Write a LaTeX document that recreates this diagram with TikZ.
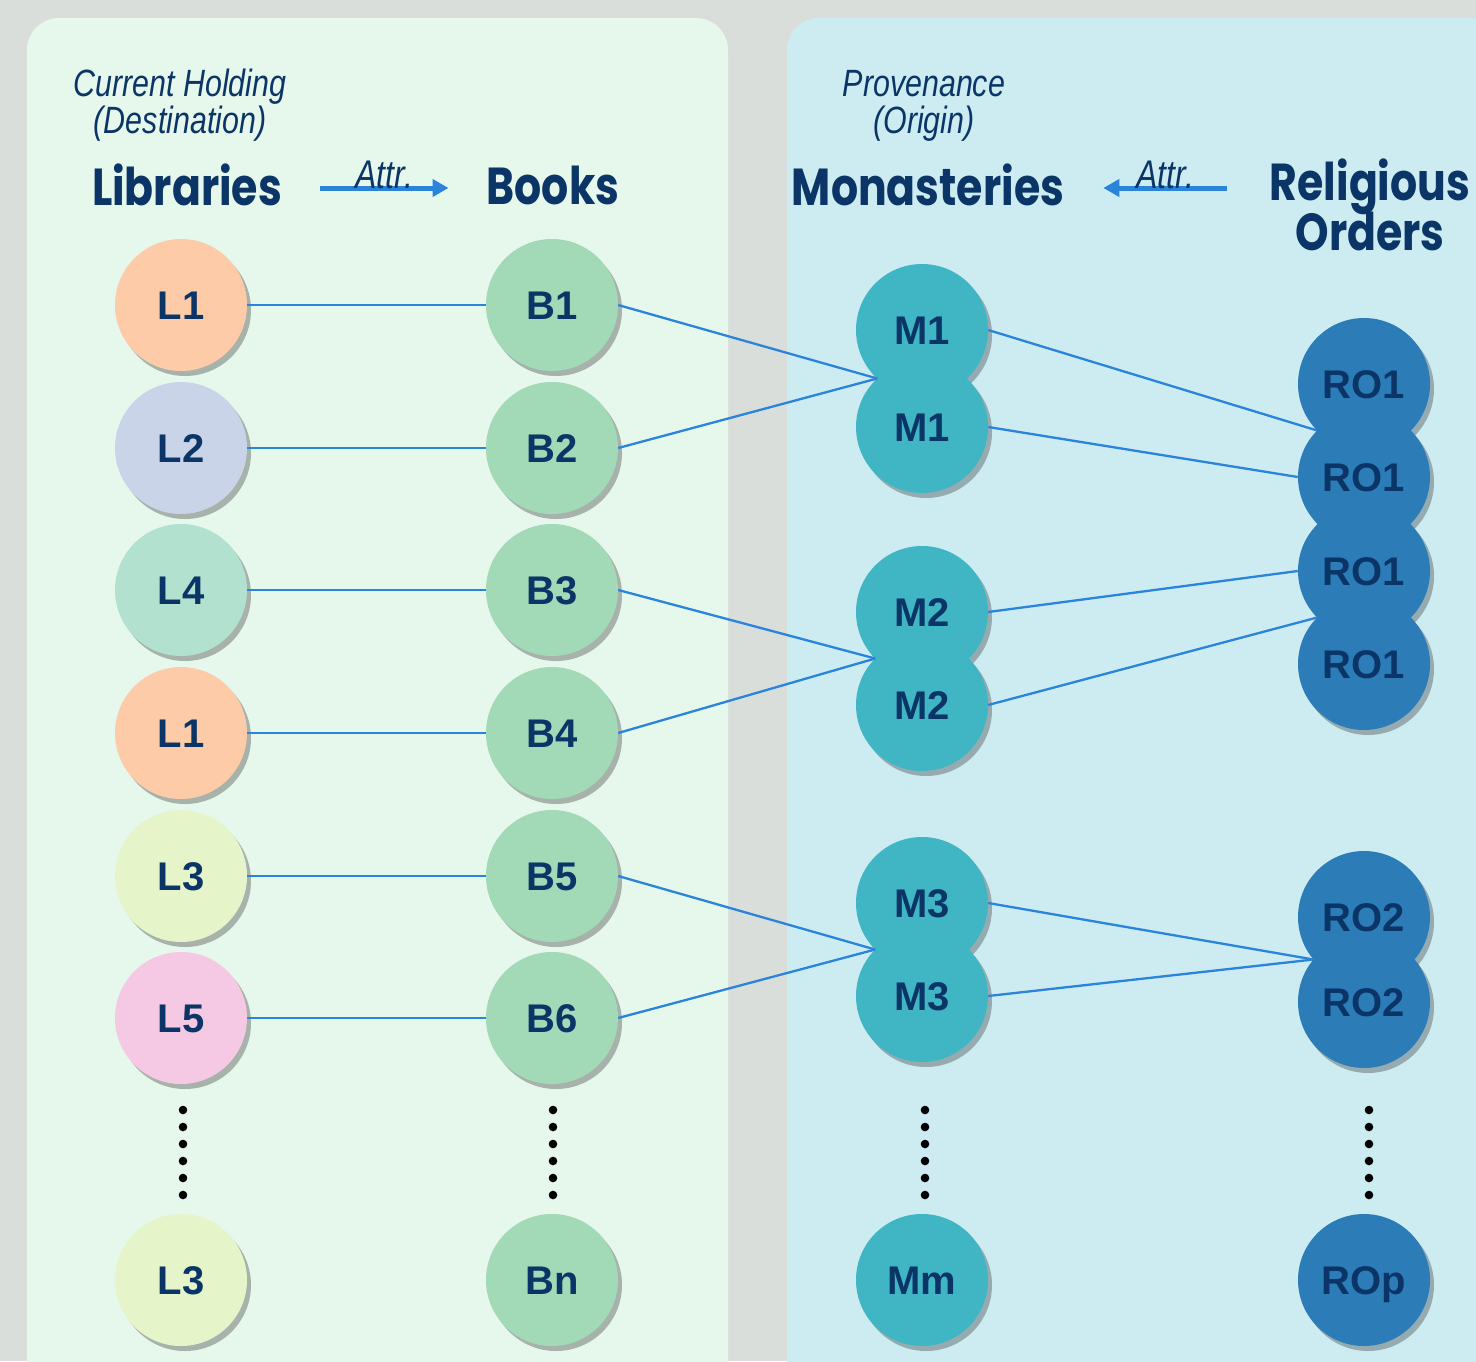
\documentclass[tikz,border=0pt]{standalone}
\usepackage{fontspec}
\setmainfont{Liberation Sans}
\newfontfamily\headfont[FakeStretch=0.82]{Poppins}
\newfontfamily\narrowfont[FakeStretch=0.8]{Liberation Sans}
\usetikzlibrary{shadows,calc,arrows.meta}
\definecolor{bggray}{HTML}{D9DEDB}
\definecolor{leftbg}{HTML}{E6F7EC}
\definecolor{rightbg}{HTML}{CCECF2}
\definecolor{navy}{HTML}{0A3566}
\definecolor{lineblue}{HTML}{2B84DB}
\definecolor{cLa}{HTML}{FDCBA8}
\definecolor{cLb}{HTML}{C9D4E8}
\definecolor{cLd}{HTML}{B2E2CF}
\definecolor{cLc}{HTML}{E6F4CA}
\definecolor{cLe}{HTML}{F5C9E3}
\definecolor{cB}{HTML}{A2D9B6}
\definecolor{cM}{HTML}{40B5C4}
\definecolor{cR}{HTML}{2C7DB7}
\begin{document}
\begin{tikzpicture}[x=1pt,y=-1pt,
  circ/.style={circle, minimum size=132pt, inner sep=0pt, text height=28.6pt, text depth=0pt,
    drop shadow={shadow xshift=4pt,shadow yshift=-5pt,opacity=.35,fill=black!80},
    font=\fontsize{40}{40}\selectfont\bfseries, text=navy},
  head/.style={font=\headfont\fontsize{52}{44}\selectfont\bfseries, text=navy, align=center, inner sep=0pt},
  note/.style={font=\narrowfont\itshape\fontsize{38}{37}\selectfont, text=navy, align=center, inner sep=0pt},
  attrtext/.style={note, font=\narrowfont\itshape\fontsize{40}{40}\selectfont},
  link/.style={draw=lineblue, line width=2.3pt},
  attr/.style={draw=lineblue, line width=5pt, -{Triangle[length=16pt,width=17pt]}},
  dotmark/.style={fill=black}
]
\clip (0,0) rectangle (1476,1361);
\fill[bggray] (0,0) rectangle (1476,1361);
\fill[leftbg, rounded corners=32pt] (27,18) rectangle (728,1420);
\fill[rightbg, rounded corners=32pt] (787,18) rectangle (1540,1420);

% headings
\node[note] (nl) at (180,105) {Current Holding\\(Destination)};
\node[note] (nr) at (924,106) {Provenance\\(Origin)};
\node[head] (lib) at (187,185) {Libraries};
\node[head] (books) at (553,185) {Books};
\node[head] (mon) at (928,185) {Monasteries};
\node[head, anchor=north] (rel) at (1370,159) {Religious\\[-4pt]Orders};
\coordinate (relrow) at (1268,188);

\draw[attr] ([xshift=38pt,yshift=-3pt]lib.east) -- node[attrtext, above, yshift=-3pt] (a1) {Attr.} ([xshift=-38pt,yshift=-3pt]books.west);
\draw[attr] ([xshift=-41pt]relrow) -- node[attrtext, above, yshift=-3pt] (a2) {Attr.} ([xshift=39pt,yshift=-3pt]mon.east);

% libraries
\node[circ, fill=cLa] (L1) at (181,305) {L1};
\node[circ, fill=cLb] (L2) at (181,448) {L2};
\node[circ, fill=cLd] (L4) at (181,590) {L4};
\node[circ, fill=cLa] (L1b) at (181,733) {L1};
\node[circ, fill=cLc] (L3) at (181,876) {L3};
\node[circ, fill=cLe] (L5) at (181,1018) {L5};
\node[circ, fill=cLc] (L3b) at (181,1280) {L3};

% books
\node[circ, fill=cB] (B1) at (552,305) {B1};
\node[circ, fill=cB] (B2) at (552,448) {B2};
\node[circ, fill=cB] (B3) at (552,590) {B3};
\node[circ, fill=cB] (B4) at (552,733) {B4};
\node[circ, fill=cB] (B5) at (552,876) {B5};
\node[circ, fill=cB] (B6) at (552,1018) {B6};
\node[circ, fill=cB] (Bn) at (552,1280) {Bn};

% monasteries
\node[circ, fill=cM] (M1a) at (922,330) {M1};
\node[circ, fill=cM] (M1b) at (922,427) {M1};
\node[circ, fill=cM] (M2a) at (922,612) {M2};
\node[circ, fill=cM] (M2b) at (922,705) {M2};
\node[circ, fill=cM] (M3a) at (922,903) {M3};
\node[circ, fill=cM] (M3b) at (922,996) {M3};
\node[circ, fill=cM] (Mm) at (922,1280) {Mm};

% religious orders
\node[circ, fill=cR] (R1a) at (1364,384) {RO1};
\node[circ, fill=cR] (R1b) at (1364,477) {RO1};
\node[circ, fill=cR] (R1c) at (1364,571) {RO1};
\node[circ, fill=cR] (R1d) at (1364,664) {RO1};
\node[circ, fill=cR] (R2a) at (1364,917) {RO2};
\node[circ, fill=cR] (R2b) at (1364,1002) {RO2};
\node[circ, fill=cR] (Rp) at (1364,1280) {ROp};

% junction points where overlapping circles meet
\coordinate (jM1) at ($(M1a)!.5!(M1b)+(-44.8,0)$);
\coordinate (jM2) at ($(M2a)!.5!(M2b)+(-46.8,0)$);
\coordinate (jM3) at ($(M3a)!.5!(M3b)+(-46.8,0)$);
\coordinate (jR1) at ($(R1a)!.5!(R1b)+(-46.8,0)$);
\coordinate (jR2) at ($(R1c)!.5!(R1d)+(-46.8,0)$);
\coordinate (jR3) at ($(R2a)!.5!(R2b)+(-50.5,0)$);

% connectors
\draw[link] (L1.east) -- (B1.west);
\draw[link] (L2.east) -- (B2.west);
\draw[link] (L4.east) -- (B3.west);
\draw[link] (L1b.east) -- (B4.west);
\draw[link] (L3.east) -- (B5.west);
\draw[link] (L5.east) -- (B6.west);
\draw[link] (B1.east) -- (jM1);
\draw[link] (B2.east) -- (jM1);
\draw[link] (B3.east) -- (jM2);
\draw[link] (B4.east) -- (jM2);
\draw[link] (B5.east) -- (jM3);
\draw[link] (B6.east) -- (jM3);
\draw[link] (M1a.east) -- (jR1);
\draw[link] (M1b.east) -- (R1b.west);
\draw[link] (M2a.east) -- (R1c.west);
\draw[link] (M2b.east) -- (jR2);
\draw[link] (M3a.east) -- (jR3);
\draw[link] (M3b.east) -- (jR3);

% ellipsis dots
\foreach \x in {183,553,925,1369}
  \foreach \k in {0,...,5}
    \fill[dotmark] (\x,{1110+17*\k}) circle (4.3pt);
\end{tikzpicture}
\end{document}
